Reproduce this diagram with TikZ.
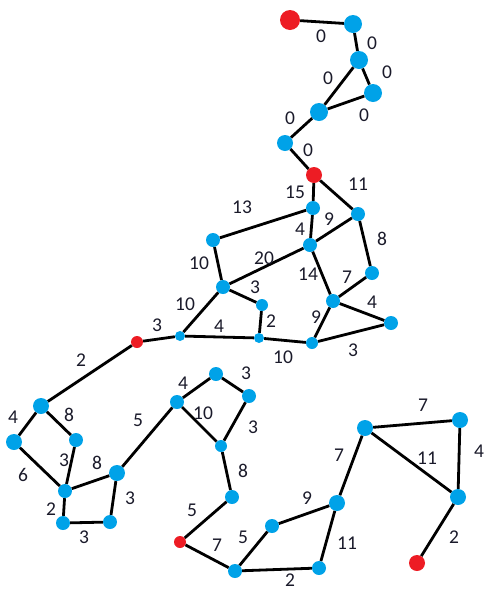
\documentclass[tikz,border=0pt]{standalone}
\usepackage{fontspec}
\setmainfont{Carlito}
\definecolor{nblue}{HTML}{00A2E8}
\definecolor{nred}{HTML}{ED1C24}
\definecolor{ltxt}{HTML}{1A1A2A}
\begin{document}
\begin{tikzpicture}[x=1pt,y=-1pt,
  bn/.style={circle,fill=nblue,inner sep=0pt,minimum size=#1},
  bn/.default=15pt,
  rn/.style={circle,fill=nred,inner sep=0pt,minimum size=#1},
  rn/.default=13pt,
  edge/.style={line width=2.8pt,black},
  lab/.style={font=\fontsize{19.5}{19.5}\selectfont,text=ltxt,inner sep=0pt}]
\useasboundingbox (0,0) rectangle (486,590);
% nodes
\node[rn=20pt] (r1) at (290,20) {};
\node[bn=18pt] (a) at (353,24) {};
\node[bn=18pt] (b) at (359,60) {};
\node[bn=18pt] (c) at (373,93) {};
\node[bn=18pt] (d) at (319,112) {};
\node[bn=16pt] (e) at (285,143) {};
\node[rn=16pt] (r2) at (314,175) {};
\node[bn=14pt] (f) at (313,208) {};
\node[bn=14pt] (g) at (358,214) {};
\node[bn=14pt] (h) at (310,245) {};
\node[bn=14pt] (i) at (213,240) {};
\node[bn=14pt] (j) at (372,273) {};
\node[bn=14pt] (k) at (223,287) {};
\node[bn=14pt] (l) at (333,301) {};
\node[bn=12pt] (m) at (262,305) {};
\node[bn=14pt] (n) at (391,323) {};
\node[bn=10pt] (o) at (180,336) {};
\node[bn=10pt] (p) at (259,338) {};
\node[bn=12pt] (q) at (312,343) {};
\node[rn=12pt] (r3) at (137,342) {};
\node[bn=16pt] (s) at (41,406) {};
\node[bn=16pt] (t) at (14,442) {};
\node[bn=14pt] (u) at (76,440) {};
\node[bn=16pt] (v) at (117,473) {};
\node[bn=14pt] (w) at (65,491) {};
\node[bn=14pt] (x) at (63,523) {};
\node[bn=14pt] (y) at (110,522) {};
\node[bn=14pt] (z) at (177,402) {};
\node[bn=14pt] (aa) at (216,374) {};
\node[bn=14pt] (ab) at (249,396) {};
\node[bn=12pt] (ac) at (221,446) {};
\node[bn=14pt] (ad) at (232,497) {};
\node[rn=12pt] (r4) at (180,542) {};
\node[bn=14pt] (ae) at (272,526) {};
\node[bn=16pt] (af) at (337,503) {};
\node[bn=14pt] (ag) at (235,571) {};
\node[bn=14pt] (ah) at (319,568) {};
\node[bn=16pt] (ai) at (365,428) {};
\node[bn=16pt] (aj) at (460,420) {};
\node[bn=16pt] (ak) at (458,497) {};
\node[rn=16pt] (r5) at (417,563) {};
% edges
\foreach \u/\v in {r1/a,a/b,b/d,b/c,c/d,d/e,e/r2,r2/f,r2/g,f/h,f/i,g/h,g/j,h/k,h/l,i/k,k/m,k/o,m/p,j/l,l/n,l/q,n/q,o/p,p/q,r3/o,r3/s,s/t,s/u,t/w,u/w,w/v,w/x,x/y,y/v,v/z,z/aa,aa/ab,z/ac,ab/ac,ac/ad,ad/r4,r4/ag,ag/ae,ae/af,af/ah,ag/ah,af/ai,ai/aj,ai/ak,aj/ak,ak/r5}
  \draw[edge] (\u) -- (\v);
% node discs drawn over the line ends
\foreach \nm/\col in {r1/nred,a/nblue,b/nblue,c/nblue,d/nblue,e/nblue,r2/nred,f/nblue,g/nblue,h/nblue,i/nblue,j/nblue,k/nblue,l/nblue,m/nblue,n/nblue,o/nblue,p/nblue,q/nblue,r3/nred,s/nblue,t/nblue,u/nblue,v/nblue,w/nblue,x/nblue,y/nblue,z/nblue,aa/nblue,ab/nblue,ac/nblue,ad/nblue,r4/nred,ae/nblue,af/nblue,ag/nblue,ah/nblue,ai/nblue,aj/nblue,ak/nblue,r5/nred}
  \fill[\col] (\nm.center) circle[radius={0.5*\pgfkeysvalueof{/pgf/minimum width}}];
% labels
\node[lab] (l1) at (321,36) {0};
\node[lab] (l2) at (372,43) {0};
\node[lab] (l3) at (328,78) {0};
\node[lab] (l4) at (387,72) {0};
\node[lab] (l5) at (364,115) {0};
\node[lab] (l6) at (290,118) {0};
\node[lab] (l7) at (308,150) {0};
\node[lab] (l8) at (295,192) {15};
\node[lab] (l9) at (358,184) {11};
\node[lab] (l10) at (242,207) {13};
\node[lab] (l11) at (329,219) {9};
\node[lab] (l12) at (300,229) {4};
\node[lab] (l13) at (382,239) {8};
\node[lab] (l14) at (199,263) {10};
\node[lab] (l15) at (264,258) {20};
\node[lab] (l16) at (308,274) {14};
\node[lab] (l17) at (347,277) {7};
\node[lab] (l18) at (255,287) {3};
\node[lab] (l19) at (185,304) {10};
\node[lab] (l20) at (372,302) {4};
\node[lab] (l21) at (271,321) {2};
\node[lab] (l22) at (316,317) {9};
\node[lab] (l23) at (219,326) {4};
\node[lab] (l24) at (353,350) {3};
\node[lab] (l25) at (283,357) {10};
\node[lab] (l26) at (157,325) {3};
\node[lab] (l27) at (81,360) {2};
\node[lab] (l28) at (13,417) {4};
\node[lab] (l29) at (69,415) {8};
\node[lab] (l30) at (138,420) {5};
\node[lab] (l31) at (64,460) {3};
\node[lab] (l32) at (97,463) {8};
\node[lab] (l33) at (23,475) {6};
\node[lab] (l34) at (130,498) {3};
\node[lab] (l35) at (51,509) {2};
\node[lab] (l36) at (84,537) {3};
\node[lab] (l37) at (183,383) {4};
\node[lab] (l38) at (246,373) {3};
\node[lab] (l39) at (203,413) {10};
\node[lab] (l40) at (253,427) {3};
\node[lab] (l41) at (243,471) {8};
\node[lab] (l42) at (192,510) {5};
\node[lab] (l43) at (339,455) {7};
\node[lab] (l44) at (307,498) {9};
\node[lab] (l45) at (243,537) {5};
\node[lab] (l46) at (217,545) {7};
\node[lab] (l47) at (347,543) {11};
\node[lab] (l48) at (290,580) {2};
\node[lab] (l49) at (423,405) {7};
\node[lab] (l50) at (427,458) {11};
\node[lab] (l51) at (479,451) {4};
\node[lab] (l52) at (454,537) {2};
\end{tikzpicture}
\end{document}
